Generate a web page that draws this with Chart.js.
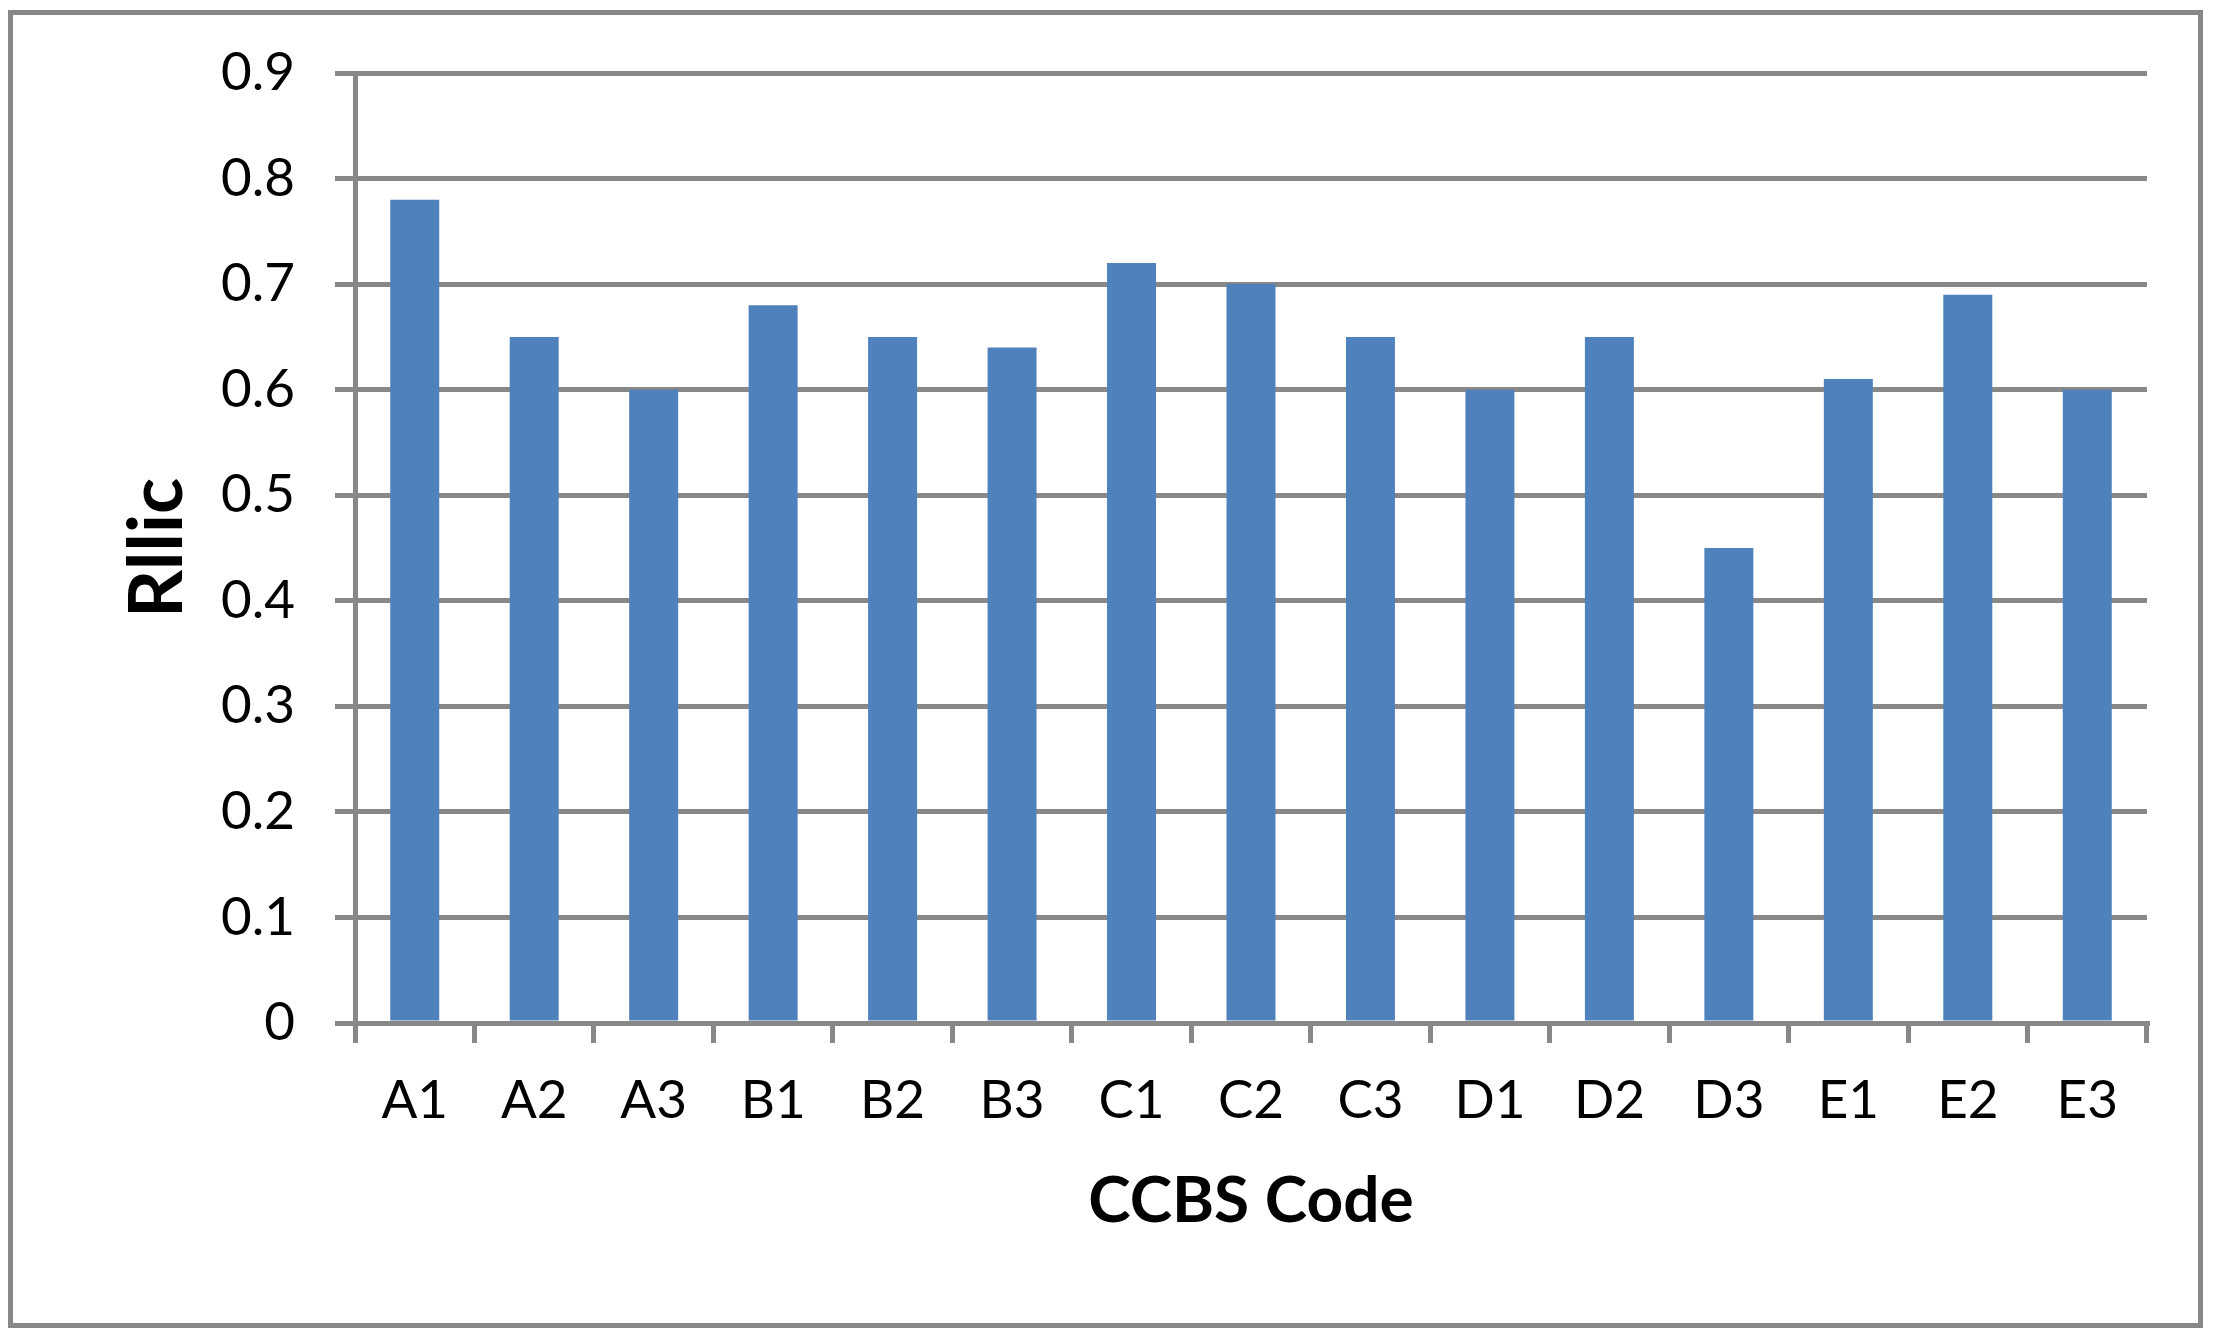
<!DOCTYPE html>
<html>
<head>
<meta charset="utf-8">
<script src="https://cdn.jsdelivr.net/npm/chart.js@4.4.1/dist/chart.umd.min.js"></script>
<style>
  html, body { margin: 0; padding: 0; background: #fff; }
  #chart { display: block; }
</style>
</head>
<body>
<canvas id="chart" width="2215" height="1340"></canvas>
<script>
const categories = ['A1', 'A2', 'A3', 'B1', 'B2', 'B3', 'C1', 'C2', 'C3', 'D1', 'D2', 'D3', 'E1', 'E2', 'E3'];
const rllicValues = [0.78, 0.65, 0.60, 0.68, 0.65, 0.64, 0.72, 0.70, 0.65, 0.60, 0.65, 0.45, 0.61, 0.69, 0.60];
const yTickLabels = ['0', '0.1', '0.2', '0.3', '0.4', '0.5', '0.6', '0.7', '0.8', '0.9'];

const axisGrey = '#888888';
const fontFamily = "Lato, 'Open Sans', sans-serif";

// white page plus the grey frame round the whole chart
const frame = {
    id: 'frame',
    beforeDraw(chart) {
        const ctx = chart.ctx;
        ctx.save();
        ctx.fillStyle = '#ffffff';
        ctx.fillRect(0, 0, chart.width, chart.height);
        ctx.strokeStyle = axisGrey;
        ctx.lineWidth = 5;
        ctx.strokeRect(10.5, 12.5, 2190, 1313);
        ctx.restore();
    }
};

const ctx = document.getElementById('chart').getContext('2d');

new Chart(ctx, {
    type: 'bar',
    data: {
        labels: categories,
        datasets: [{
            label: 'Rllic',
            data: rllicValues,
            backgroundColor: '#4F81BD',
            borderWidth: 0,
            categoryPercentage: 1,
            barPercentage: 0.41
        }]
    },
    options: {
        responsive: false,
        animation: false,
        layout: { padding: { left: 0, top: 73, right: 68, bottom: 0 } },
        plugins: {
            legend: { display: false },
            tooltip: { enabled: false }
        },
        scales: {
            x: {
                z: 1,
                grid: {
                    drawOnChartArea: false,
                    drawTicks: true,
                    tickLength: 20,
                    color: axisGrey,
                    lineWidth: 5
                },
                border: { color: axisGrey, width: 5 },
                ticks: {
                    color: '#000',
                    padding: 26,
                    maxRotation: 0,
                    font: { family: fontFamily, size: 53 }
                },
                title: {
                    display: true,
                    text: 'CCBS Code',
                    color: '#000',
                    padding: { top: 0, bottom: 100 },
                    font: { family: fontFamily, size: 64, weight: 'bold' }
                },
                afterFit(scale) { scale.height = 317; }
            },
            y: {
                min: 0,
                max: 0.9,
                grid: {
                    drawTicks: true,
                    tickLength: 20,
                    color: axisGrey,
                    lineWidth: 5
                },
                border: { color: axisGrey, width: 5 },
                ticks: {
                    stepSize: 0.1,
                    color: '#000',
                    padding: 40,
                    font: { family: fontFamily, size: 53 },
                    callback: (value, index) => yTickLabels[index]
                },
                title: {
                    display: true,
                    text: 'Rllic',
                    color: '#000',
                    padding: { top: 113, bottom: 0 },
                    font: { family: fontFamily, size: 75, weight: 'bold' }
                },
                afterFit(scale) { scale.width = 355; }
            }
        }
    },
    plugins: [frame]
});
</script>
</body>
</html>
